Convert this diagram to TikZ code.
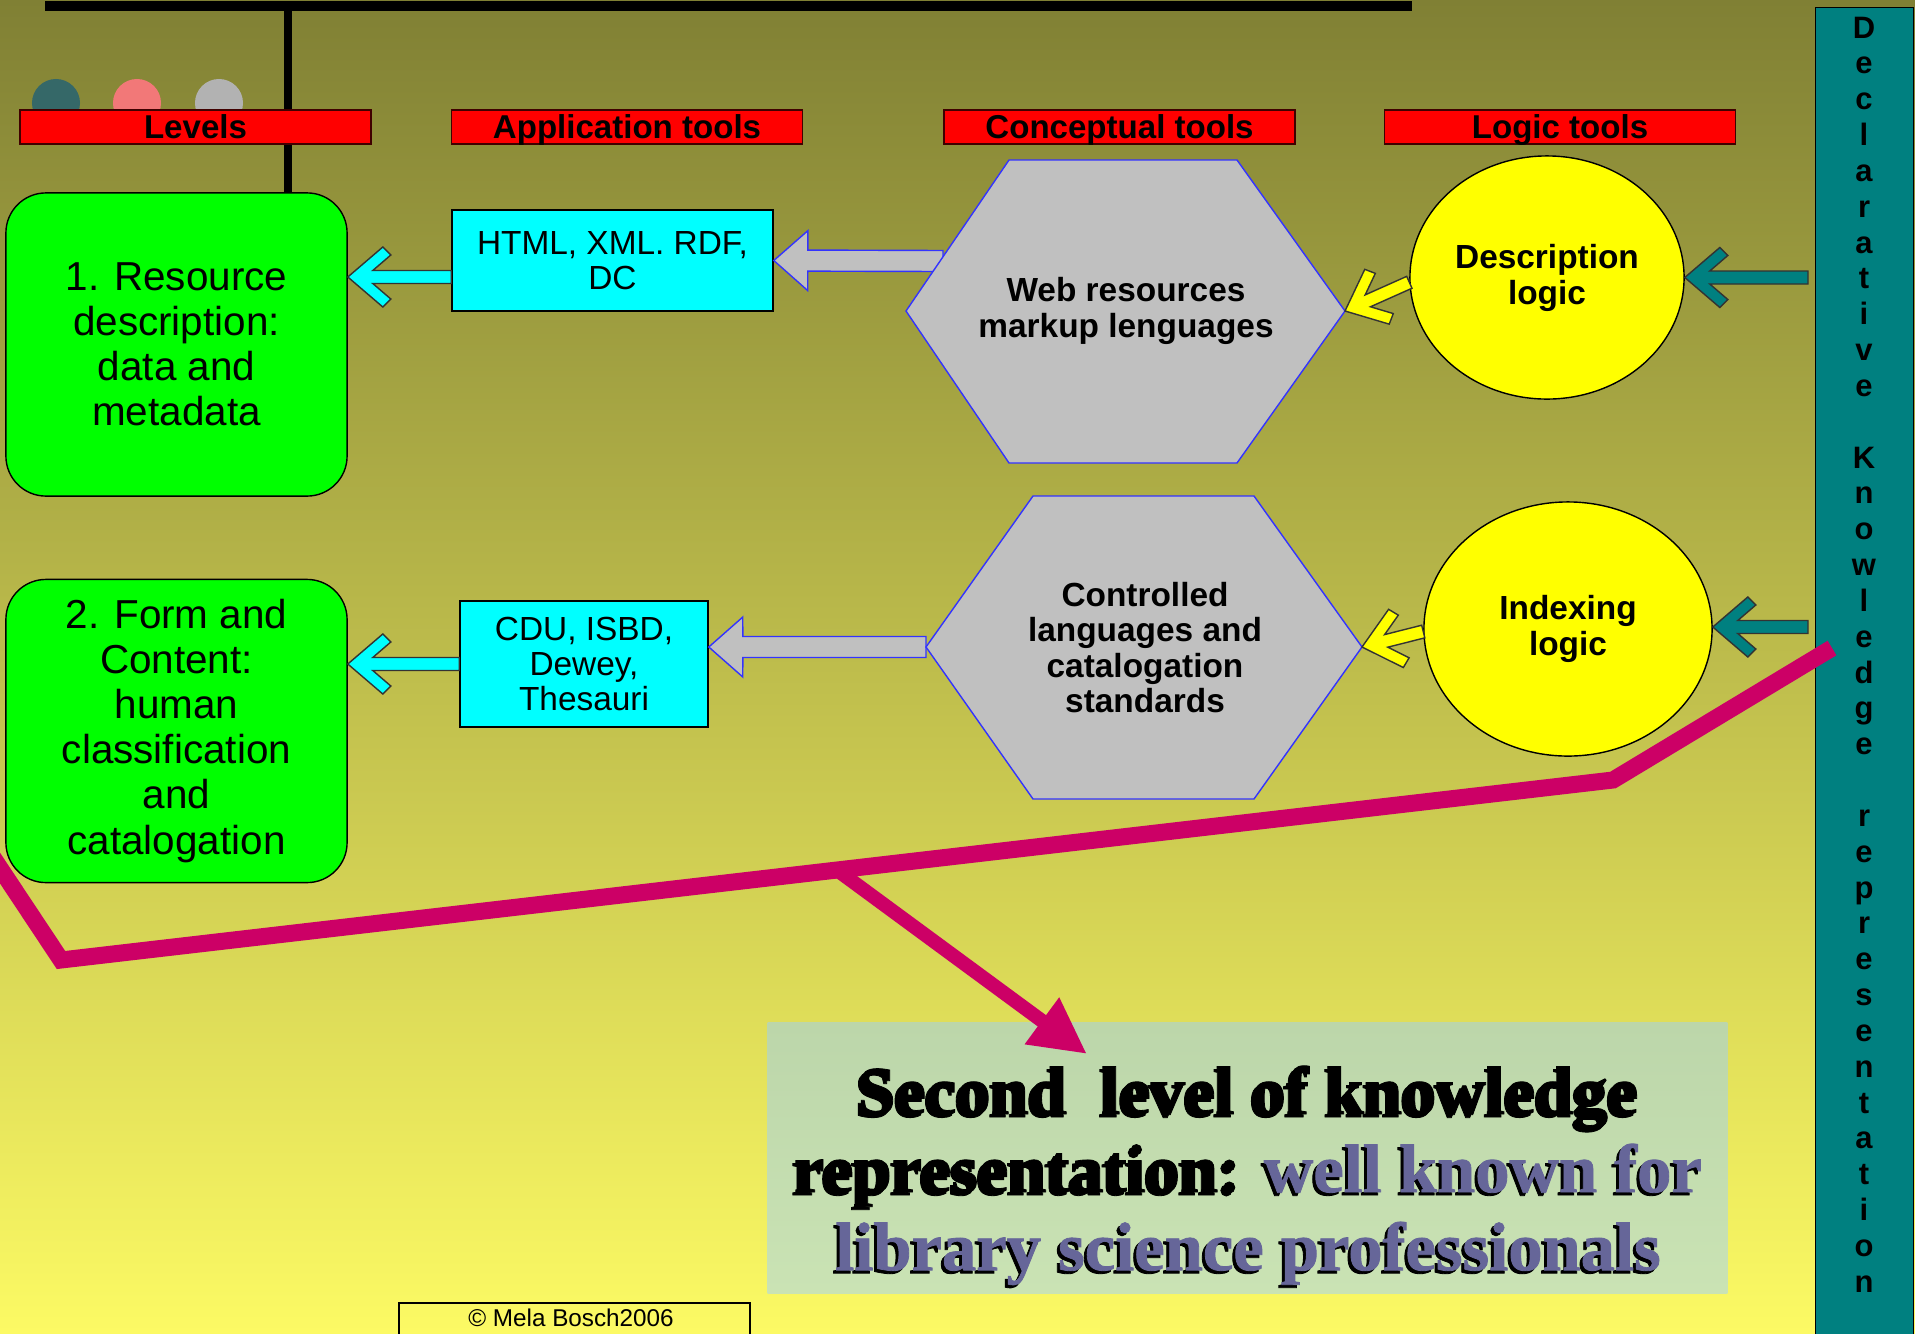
\documentclass[tikz,border=0pt]{standalone}
\usepackage{fontspec}
\setmainfont{Liberation Sans}
\newfontfamily\posterfont{Liberation Serif Bold}[FakeBold=1.2]
\usetikzlibrary{shapes.geometric,arrows.meta,calc}
\definecolor{bgtop}{RGB}{128,128,52}
\definecolor{bgbot}{RGB}{252,250,100}
\definecolor{hdrred}{RGB}{255,0,0}
\definecolor{lvlgreen}{RGB}{0,255,0}
\definecolor{toolcyan}{RGB}{0,255,255}
\definecolor{hexgray}{RGB}{192,192,192}
\definecolor{hexblue}{RGB}{51,51,255}
\definecolor{logicyellow}{RGB}{255,255,0}
\definecolor{declteal}{RGB}{0,128,128}
\definecolor{linkmagenta}{RGB}{204,0,102}
\definecolor{slateblue}{RGB}{102,102,153}
\definecolor{boxtop}{RGB}{188,214,170}
\definecolor{boxbot}{RGB}{202,227,180}
\definecolor{dotteal}{RGB}{53,104,104}
\definecolor{dotsalmon}{RGB}{242,120,120}
\definecolor{dotgray}{RGB}{178,178,178}

\begin{document}
\begin{tikzpicture}[x=0.01cm,y=-0.01cm,
  header/.style={draw=black!75!red,fill=hdrred,minimum width=3.51cm,minimum height=0.34cm,inner sep=0pt,text height=0.72em,text depth=0.05em,font=\bfseries\fontsize{9.4pt}{10pt}\selectfont},
  level/.style={draw=black,fill=lvlgreen,rounded corners=0.4cm,minimum width=3.41cm,minimum height=3.03cm,align=center,inner sep=0pt,font=\fontsize{11.5pt}{12.8pt}\selectfont},
  tool/.style={draw=black,fill=toolcyan,align=center,inner sep=0pt,font=\fontsize{9.5pt}{10pt}\selectfont},
  logic/.style={ellipse,draw=black,fill=logicyellow,inner sep=0pt,align=center,font=\bfseries\fontsize{9.5pt}{10.2pt}\selectfont},
  hexa/.style={draw=hexblue,fill=hexgray,line width=0.4pt},
  hextext/.style={align=center,inner sep=0pt,font=\bfseries\fontsize{9.5pt}{10.1pt}\selectfont},
  poster/.style={align=center,inner sep=0pt,font=\posterfont\fontsize{19.5pt}{22.2pt}\selectfont},
  magline/.style={draw=linkmagenta,line width=0.17cm},
  chev/.style={draw=black!80,line width=0.4pt,to path={(\tikztotarget) -- ($(\tikztotarget)!0.461cm!40.6:(\tikztostart)$) -- ($(\tikztotarget)!0.483cm!27.1:(\tikztostart)$) -- ($(\tikztotarget)!0.258cm!14.6:(\tikztostart)$) -- ($(\tikztostart)!0.065cm!-90:(\tikztotarget)$) -- ($(\tikztostart)!0.065cm!90:(\tikztotarget)$) -- ($(\tikztotarget)!0.258cm!-14.6:(\tikztostart)$) -- ($(\tikztotarget)!0.483cm!-27.1:(\tikztostart)$) -- ($(\tikztotarget)!0.461cm!-40.6:(\tikztostart)$) -- cycle}},
  blockarr/.style={draw=hexblue,fill=hexgray,line width=0.4pt,to path={(\tikztotarget) -- ($(\tikztotarget)!0.453cm!41.4:(\tikztostart)$) -- ($(\tikztotarget)!0.356cm!17.2:(\tikztostart)$) -- ($(\tikztostart)!0.105cm!-90:(\tikztotarget)$) -- ($(\tikztostart)!0.105cm!90:(\tikztotarget)$) -- ($(\tikztotarget)!0.356cm!-17.2:(\tikztostart)$) -- ($(\tikztotarget)!0.453cm!-41.4:(\tikztostart)$) -- cycle}}]
  \useasboundingbox (0,0) rectangle (1915,1333);
  \shade[top color=bgtop,bottom color=bgbot] (0,0) rectangle (1915,1333);

  \node[fill=black,minimum width=13.66cm,minimum height=0.1cm,inner sep=0pt,anchor=north west] (topbar) at (44,0) {};
  \node[level] (green1) at (176.5,344.5) {1. Resource\\description:\\data and\\metadata};
  \draw[line width=0.08cm] (288,0 |- topbar.south) -- (288,0 |- green1.north);
  \fill[dotteal] (56,103) circle[radius=0.24cm]; \fill[dotsalmon] (137,103) circle[radius=0.24cm]; \fill[dotgray] (219,103) circle[radius=0.24cm];

  \node[header] (levels) at (195.5,127) {Levels};
  \node[header] (apptools) at (627,127) {Application tools};
  \node[header] (concepttools) at (1119.5,127) {Conceptual tools};
  \node[header] (logictools) at (1560,127) {Logic tools};

  \node[draw=black,fill=declteal,minimum width=0.98cm,minimum height=13.4cm,inner sep=0pt,anchor=north west] (declbar) at (1815,7) {};
  \node[anchor=north,align=center,inner sep=0pt,font=\bfseries\fontsize{8.8pt}{10.19pt}\selectfont] (decltext) at (1864,16) {D\\e\\c\\l\\a\\r\\a\\t\\i\\v\\e\\~\\K\\n\\o\\w\\l\\e\\d\\g\\e\\~\\r\\e\\p\\r\\e\\s\\e\\n\\t\\a\\t\\i\\o\\n};

  \node[top color=boxtop,bottom color=boxbot,minimum width=9.59cm,minimum height=2.7cm,inner sep=0pt] (second) at (1247.5,1158) {};
  \node[poster,anchor=north,text=black] (secondshadow) at (1245,1068) {Second\ \ level of knowledge\\representation: well known for\\library science professionals};
  \node[poster,anchor=north] (secondtext) at (1248,1065) {Second\ \ level of knowledge\\representation: \textcolor{slateblue}{well known for}\\\textcolor{slateblue}{library science professionals}};

  \draw (399,1343) |- (750,1303) -- (750,1343); \node[font=\fontsize{6.9pt}{8pt}\selectfont] (credit) at (571,1318) {© Mela Bosch2006};

  \coordinate (bend1) at (61,960); \coordinate (bend2) at (1613,780); \coordinate (declin) at (1832,648); \coordinate (tip) at (1087,1054);
  \draw[magline,miter limit=4] (-12,850) -- (bend1) -- (bend2) -- (declin);
  \coordinate (fork) at ($(bend1)!0.5!(bend2)$);
  \draw[magline,line width=0.14cm,-{Triangle[length=0.56cm,width=0.54cm]}] (fork) -- (tip);

  \node[level] (green2) at (176.5,731) {2. Form and\\Content:\\human\\classification\\and\\catalogation};

  \node[tool,minimum width=3.21cm,minimum height=1.01cm] (html) at (612.5,260.5) {HTML, XML. RDF,\\DC};
  \node[tool,minimum width=2.48cm,minimum height=1.26cm] (cdu) at (584,664) {CDU, ISBD,\\Dewey,\\Thesauri};

  \coordinate (webin) at (943,261); \coordinate (ctrlL) at (926,647); \coordinate (webR) at (1345,311); \coordinate (ctrlR) at (1362,647);
  \draw[blockarr] (webin) to (html.east); \draw[blockarr] (ctrlL) to (ctrlL -| cdu.east);

  \draw[hexa] (906,311) -- (1009,160) -- (1237,160) -- (webR) -- (1237,463) -- (1009,463) -- cycle;
  \draw[hexa] (ctrlL) -- (1033,496) -- (1254,496) -- (ctrlR) -- (1254,799) -- (1033,799) -- cycle;
  \node[hextext] (web) at (1126,311) {Web resources\\markup lenguages};
  \node[hextext] (ctrl) at (1145,647.5) {Controlled\\languages and\\catalogation\\standards};

  \node[logic,minimum width=2.74cm,minimum height=2.43cm] (desc) at (1547,277.5) {Description\\logic};
  \node[logic,minimum width=2.88cm,minimum height=2.54cm] (idx) at (1568,629) {Indexing\\logic};

  \coordinate (htmlout) at ($(html.west)+(0,16.5)$);
  \draw[chev,fill=toolcyan] (htmlout) to (htmlout -| green1.east);
  \draw[chev,fill=toolcyan] (cdu.west) to (cdu.west -| green2.east);
  \draw[chev,fill=logicyellow] (desc.182) to (webR);
  \draw[chev,fill=logicyellow] (idx.181) to (ctrlR);
  \coordinate (descin) at ($(declbar.west |- desc.east)+(-7,0)$); \coordinate (idxin) at ($(declbar.west |- idx.east)+(-7,-2)$);
  \draw[chev,fill=declteal] (descin) to (desc.east);
  \draw[chev,fill=declteal] (idxin) to (idxin -| idx.east);
\end{tikzpicture}
\end{document}
